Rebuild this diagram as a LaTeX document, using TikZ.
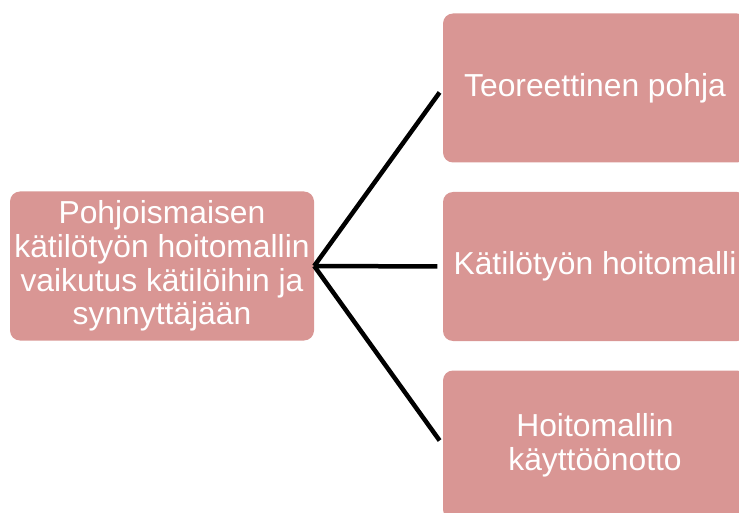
\documentclass[tikz,border=0pt]{standalone}
\usepackage{fontspec}
\setmainfont{Liberation Sans}
\definecolor{boxfill}{HTML}{D99694}
\begin{document}
\begin{tikzpicture}[x=1pt,y=-1pt,
  box/.style={fill=boxfill, draw=none, rounded corners=10pt, minimum width=304pt, minimum height=149pt,
    text=white, align=center, inner sep=0pt, font=\fontsize{31.8}{33.6}\selectfont},
  link/.style={draw=black, line width=4.5pt, line cap=butt, shorten >=5.5pt}]
\clip (0,0) rectangle (739,513);
\node[box] (root) at (162,266) {Pohjoismaisen\\kätilötyön hoitomallin\\vaikutus kätilöihin ja\\synnyttäjään};
\node[box] (top) at (595,88) {Teoreettinen pohja};
\node[box] (mid) at (595,266.5) {Kätilötyön hoitomalli};
\node[box] (bot) at (595,445) {Hoitomallin\\käyttöönotto};
\draw[link] (root.east) -- (top.west);
\draw[link] (root.east) -- (mid.west);
\draw[link] (root.east) -- (bot.west);
\end{tikzpicture}
\end{document}
